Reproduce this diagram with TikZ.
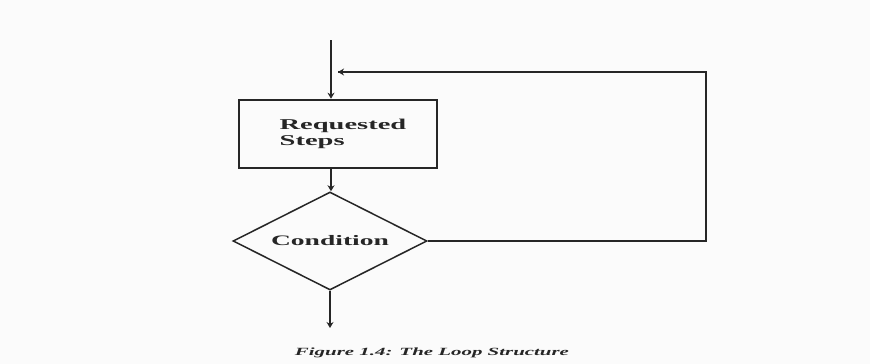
\documentclass[tikz,border=0pt]{standalone}
\usepackage{fontspec}
\setmainfont{Liberation Serif}[FakeStretch=1.9]
\usetikzlibrary{shapes.geometric,arrows.meta}
\definecolor{ink}{HTML}{262626}
\definecolor{paper}{HTML}{FBFBFB}
\tikzset{
  flow/.style={draw=ink, line width=1.8pt, -{Stealth[length=6pt,width=7pt]}},
  loopline/.style={draw=ink, line width=1.5pt},
  stepbox/.style={draw=ink, line width=2.6pt, rectangle, minimum width=198pt,
    minimum height=68pt, align=left, text=ink,
    font=\fontsize{15}{16}\selectfont\bfseries},
  decision/.style={draw=ink, line width=1.5pt, diamond, shape aspect=2,
    minimum width=194pt, minimum height=98pt, inner sep=0pt, text=ink,
    font=\fontsize{14.5}{16}\selectfont\bfseries},
  caption/.style={text=ink, font=\fontsize{11}{13}\selectfont\bfseries\itshape}
}
\begin{document}
\begin{tikzpicture}[x=1pt,y=-1pt]
  % page area
  \fill[paper] (0,0) rectangle (870,364);
  \useasboundingbox (0,0) rectangle (870,364);

  % the loop body and its test
  \node[stepbox] (steps) at (338,134)
    {\hspace*{10pt}\raisebox{-2pt}{\begin{tabular}{@{}l@{}}Requested\\Steps\end{tabular}}};
  \node[decision] (cond) at (330,241) {\raisebox{-2pt}{Condition}};

  % entry, body to test, exit
  \coordinate (entry) at (331,40);
  \coordinate (exit) at (330,328);
  \draw[flow] (entry) -- (entry |- steps.north);
  \draw[flow] (steps.south -| entry) -- (cond.north -| entry);
  \draw[flow] (cond.south) -- (exit);

  % return path back to the top
  \coordinate (back1) at (706,241);
  \coordinate (back2) at (706,72);
  \coordinate (rejoin) at (338,72);
  \draw[loopline] (cond.east) -- (back1) -- (back2) -- (rejoin);
  \draw[flow] (back2) ++(-300,0) coordinate (tipstart) (tipstart) -- (rejoin);

  \node[caption] (cap) at (432,353) {Figure 1.4: The Loop Structure};
\end{tikzpicture}
\end{document}
